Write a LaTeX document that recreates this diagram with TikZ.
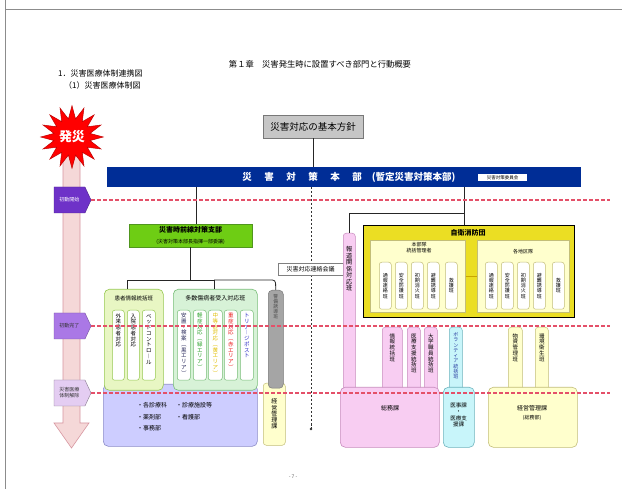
\documentclass[tikz,border=0pt]{standalone}
\usepackage{fontspec}
\setmainfont{Noto Sans CJK JP}
\usetikzlibrary{shapes.geometric,shapes.symbols}
\ExplSyntaxOn
\NewDocumentCommand \tatex { m }
  {
    \vbox:n
      {
        \offinterlineskip
        \tl_map_inline:nn {#1}
          { \hbox_to_wd:nn { 1.05em } { \hfil \vrule height .88em depth .17em width 0pt ##1 \hfil } }
      }
  }
\ExplSyntaxOff
\newcommand\fsz[2]{\fontsize{#1}{#2}\selectfont}
\definecolor{barblue}{RGB}{0,45,150}
\definecolor{shibugreen}{RGB}{110,205,20}
\definecolor{shibuline}{RGB}{80,150,30}
\definecolor{lgfill}{RGB}{232,246,195}
\definecolor{lgline}{RGB}{150,200,80}
\definecolor{mgfill}{RGB}{215,242,215}
\definecolor{mgline}{RGB}{120,190,120}
\definecolor{lavfill}{RGB}{205,205,255}
\definecolor{lavline}{RGB}{140,140,200}
\definecolor{grayfill}{RGB}{165,165,165}
\definecolor{grayline}{RGB}{120,120,120}
\definecolor{jieifill}{RGB}{235,222,35}
\definecolor{pyfill}{RGB}{255,255,205}
\definecolor{pyline}{RGB}{195,190,120}
\definecolor{pinkfill}{RGB}{248,205,242}
\definecolor{pinkline}{RGB}{200,140,190}
\definecolor{cyanfill}{RGB}{200,245,250}
\definecolor{cyanline}{RGB}{110,180,190}
\definecolor{arrowfill}{RGB}{245,216,216}
\definecolor{arrowline}{RGB}{215,150,160}
\definecolor{dashred}{RGB}{228,80,105}
\definecolor{phA}{RGB}{110,50,200}
\definecolor{phB}{RGB}{170,120,230}
\definecolor{phC}{RGB}{228,205,242}
\definecolor{goldline}{RGB}{200,165,0}
% column with centred vertical text
\newcommand\vcolC[8]{%
  \node[col,#2,anchor=north west,minimum width={#5-#3},minimum height={#6-#4}] (#1) at (#3,#4) {};
  \node[inner sep=0,#7] (#1t) at (#1.center) {\tatex{#8}};}
% column with vertical text from the top
\newcommand\vcolT[9]{%
  \node[col,#2,anchor=north west,minimum width={#5-#3},minimum height={#6-#4}] (#1) at (#3,#4) {};
  \node[inner sep=0,anchor=north,#7] (#1t) at ([yshift=-#9pt]#1.north) {\tatex{#8}};}
\newcommand\bsp{\hspace{12.5pt}}
\begin{document}
\begin{tikzpicture}[x=1pt,y=-1pt,
  conn/.style={draw=black!85,line width=.8},
  reddash/.style={draw=dashred,line width=1.1,dash pattern=on 3.5pt off 2.5pt},
  bigbox/.style={rounded corners=5,line width=.6,inner sep=0,anchor=north west},
  col/.style={rounded corners=2.5,line width=.5,fill=white,inner sep=0},
  phase/.style={signal,signal to=east,signal pointer angle=130,minimum width=37,minimum height=26,inner sep=1,line width=.4,align=center,font=\fsz{5}{6}},
  ctext/.style={font=\fsz{5.5}{6}}
]
\useasboundingbox (0,0) rectangle (622,489);
\fill[white] (0,0) rectangle (622,489);
\draw[black!45,line width=1] (5,489) -- (5,0);
\draw[black!45,line width=1] (5,10) -- (622,10);

% headings
\node[font=\fsz{8.3}{10}] (title) at (320,64) {第１章　災害発生時に設置すべき部門と行動概要};
\node[anchor=west,inner sep=0,font=\fsz{8}{10}] (h1) at (58,73) {1．災害医療体制連携図};
\node[anchor=west,inner sep=0,font=\fsz{8}{10}] (h2) at (64,85) {（1）災害医療体制図};

% time arrow
\filldraw[fill=arrowfill,draw=arrowline,line width=.6] (63,145) -- (63,423) -- (54,423) -- (71.5,448) -- (89,423) -- (80,423) -- (80,145) -- cycle;
\node[star,star points=16,star point ratio=1.7,minimum size=62,inner sep=0,fill=red,draw=red!75!black,line width=.5,text=white,font=\bfseries\fsz{13}{14}] (hassai) at (72,137) {発災};
\node[phase,fill=phA,draw=phA!70!black,text=white] (p1) at (69.5,200) {初動開始};
\node[phase,fill=phB,draw=phB!70!black,text=black!80] (p2) at (69.5,326) {初動完了};
\node[phase,fill=phC,draw=phC!60!black,text=black!80] (p3) at (69.5,393) {災害医療\\体制解除};

% top
\node[draw=grayline,fill=gray!45,minimum width=100,minimum height=23,inner sep=0,font=\fsz{9.5}{10}] (hoshin) at (313,126.5) {災害対応の基本方針};
\node[fill=barblue,minimum width=474,minimum height=20,inner sep=0] (bar) at (344,177) {};
\node[text=white,inner sep=0,font=\bfseries\fsz{9.5}{10}] (bartext) at (349,177) {災\bsp 害\bsp 対\bsp 策\bsp 本\bsp 部\hspace{10pt}(暫定災害対策本部)};
\node[fill=white,minimum width=49,minimum height=7,inner sep=0,font=\fsz{4.5}{5}] (iinkai) at (502.5,177.5) {災害対策委員会};
\draw[conn] (hoshin.south) -- (hoshin.south |- bar.north);

% dotted liaison line
\coordinate (dv0) at (311,187);
\coordinate (dv1) at (311,429);
\draw[black!80,line width=1,dash pattern=on 2.5pt off 1.5pt] (dv0) -- (dv1);
\fill[black!80] (dv1) circle (1.3);
\node[draw=black!50,fill=white,minimum width=65,minimum height=12,inner sep=0,font=\fsz{6}{7}] (renraku) at (310.5,269) {災害対応連絡会議};

% front-line branch
\node[fill=shibugreen,draw=shibuline,line width=.5,minimum width=123,minimum height=23,inner sep=0,align=center] (shibu) at (190.5,235.5)
  {\bfseries\fsz{7}{8}災害時前線対策支部\\[-.5pt]\mdseries\fsz{5}{6}(災害対策本部長指揮一部委譲)};
\coordinate (b1) at (196,187);
\draw[conn] (b1) -- (b1 |- shibu.north);

% lower left boxes
\node[bigbox,fill=lavfill,draw=lavline,minimum width=154,minimum height=62] (lav) at (103,384) {};
\node[anchor=west,inner sep=0,font=\fsz{6}{7}] (l1) at (137,405) {・各診療科};
\node[anchor=west,inner sep=0,font=\fsz{6}{7}] (l2) at (176,405) {・診療施設等};
\node[anchor=west,inner sep=0,font=\fsz{6}{7}] (l3) at (137,417) {・薬剤部};
\node[anchor=west,inner sep=0,font=\fsz{6}{7}] (l4) at (176,417) {・看護部};
\node[anchor=west,inner sep=0,font=\fsz{6}{7}] (l5) at (137,428) {・事務部};
\vcolC{keiei1}{fill=pyfill,draw=pyline,rounded corners=3}{263}{383}{285}{445}{font=\fsz{6}{7}}{経営管理課}
\vcolT{keibi}{fill=grayfill,draw=grayline,rounded corners=4}{268}{290}{283}{388}{font=\fsz{4.8}{5},text=black!70}{警備誘導班}{4}

\node[bigbox,fill=lgfill,draw=lgline,minimum width=59,minimum height=101] (kanja) at (104,289) {};
\node[inner sep=0,font=\fsz{5.5}{6}] (kanjat) at ([yshift=-9pt]kanja.north) {患者情報統括班};
\vcolT{k1}{draw=lgline}{112}{310}{124}{380}{ctext}{外来患者対応}{3}
\vcolT{k2}{draw=lgline}{127}{310}{139}{380}{ctext}{入院患者対応}{3}
\vcolT{k3}{draw=lgline}{142}{310}{155}{380}{ctext}{ベッドコントロ︱ル}{3}

\node[bigbox,fill=mgfill,draw=mgline,minimum width=84,minimum height=101] (tasu) at (173,289) {};
\node[inner sep=0,font=\fsz{6}{7}] (tasut) at ([yshift=-9pt]tasu.north) {多数傷病者受入対応班};
\vcolT{t1}{draw=mgline}{177}{310}{190}{380}{ctext,text={rgb,255:red,40;green,40;blue,90}}{安置・検案︵黒エリア︶}{2.5}
\vcolT{t2}{draw=mgline}{193}{310}{206}{380}{ctext,text={rgb,255:red,40;green,160;blue,40}}{軽症対応︵緑エリア︶}{2.5}
\vcolT{t3}{draw=mgline}{208}{310}{222}{380}{ctext,text={rgb,255:red,225;green,190;blue,0}}{中等症対応︵黄エリア︶}{2.5}
\vcolT{t4}{draw=mgline}{224}{310}{237}{380}{ctext,text={rgb,255:red,235;green,30;blue,30}}{重症対応︵赤エリア︶}{2.5}
\vcolT{t5}{draw=mgline}{240}{310}{253}{380}{ctext,text={rgb,255:red,50;green,50;blue,200}}{トリア︱ジポスト}{2.5}

\coordinate (hj) at (190.5,280);
\coordinate (d1) at (127,280);
\coordinate (d2) at (214,280);
\coordinate (d3) at (275.5,280);
\draw[conn] (shibu.south) -- (hj);
\draw[conn] (d1 |- kanja.north) -- (d1) -- (d2);
\draw[conn] (d2) -- (d2 |- tasu.north);
\draw[conn,rounded corners=3] (d2) -- (d3) -- (keibi.north);

% right side
\vcolT{hodo}{fill=pinkfill,draw=pinkline,rounded corners=3}{343}{233}{355}{392}{font=\fsz{6.2}{7}}{報道関係対応班}{13}
\vcolT{jo1}{fill=pinkfill,draw=pinkline,rounded corners=3}{382}{327}{402}{392}{ctext}{情報統括班}{6}
\vcolT{jo2}{fill=pinkfill,draw=pinkline,rounded corners=3}{407}{327}{420}{392}{ctext}{医療支援統括班}{6}
\vcolT{jo3}{fill=pinkfill,draw=pinkline,rounded corners=3}{424}{327}{437}{392}{ctext}{大学職員統括班}{6}
\vcolT{vol}{fill=cyanfill,draw=cyanline,rounded corners=3}{449}{327}{462}{392}{font=\fsz{5}{6},text={rgb,255:red,40;green,60;blue,160}}{ボランティア統括班}{5}
\vcolT{bus}{fill=pyfill,draw=pyline,rounded corners=3}{508}{327}{522}{392}{ctext}{物資管理班}{6}
\vcolT{kan}{fill=pyfill,draw=pyline,rounded corners=3}{535}{327}{548}{392}{ctext}{環境衛生班}{6}

\node[bigbox,fill=pinkfill,draw=pinkline,minimum width=99,minimum height=60] (somu) at (340,387) {};
\node[font=\fsz{6}{7}] (somut) at (390,408) {総務課};
\node[bigbox,fill=cyanfill,draw=cyanline,minimum width=31,minimum height=60] (iji) at (443,387) {};
\node[align=center,inner sep=0,font=\fsz{5.5}{6.2}] (ijit) at (458.5,415) {医事課\\・\\医療支\\援課};
\node[bigbox,fill=pyfill,draw=pyline,minimum width=89,minimum height=60] (keiei2) at (488,387) {};
\node[align=center,inner sep=0,font=\fsz{6}{9}] (keiei2t) at (532,413) {経営管理課\\\fsz{5}{6}(総務部)};

\node[draw=black,line width=1.3,fill=jieifill,minimum width=211,minimum height=92,inner sep=0,anchor=north west] (jiei) at (363,225) {};
\node[inner sep=0,font=\bfseries\fsz{7}{8}] (jieit) at (468,232.5) {自衛消防団};
\node[draw=pyline,line width=.6,fill=pyfill,minimum width=95,minimum height=72,inner sep=0,anchor=north west] (hq) at (370,240) {};
\node[align=center,inner sep=0,font=\fsz{5}{6.2}] (hqt) at (419,248) {本部隊\\統括管理者};
\node[draw=pyline,line width=.6,fill=pyfill,minimum width=92,minimum height=72,inner sep=0,anchor=north west] (chiku) at (477,240) {};
\node[inner sep=0,font=\fsz{5}{6}] (chikut) at (523,252) {各地区隊};
\draw[goldline,line width=1.5] (hq.east) -- (chiku.west);
\vcolC{h1c}{draw=pyline}{379}{262}{391}{309}{font=\fsz{5}{6}}{通報連絡班}
\vcolC{h2c}{draw=pyline}{395}{262}{407}{309}{font=\fsz{5}{6}}{安全防護班}
\vcolC{h3c}{draw=pyline}{411}{262}{423}{309}{font=\fsz{5}{6}}{初期消火班}
\vcolC{h4c}{draw=pyline}{427}{262}{439}{309}{font=\fsz{5}{6}}{避難誘導班}
\vcolC{h5c}{draw=pyline}{445}{262}{457}{309}{font=\fsz{5}{6}}{救護班}
\vcolC{c1c}{draw=pyline}{485}{262}{497}{309}{font=\fsz{5}{6}}{通報連絡班}
\vcolC{c2c}{draw=pyline}{501}{262}{513}{309}{font=\fsz{5}{6}}{安全防護班}
\vcolC{c3c}{draw=pyline}{517}{262}{529}{309}{font=\fsz{5}{6}}{初期消火班}
\vcolC{c4c}{draw=pyline}{533}{262}{545}{309}{font=\fsz{5}{6}}{避難誘導班}
\vcolC{c5c}{draw=pyline}{552}{262}{564}{309}{font=\fsz{5}{6}}{救護班}

\coordinate (r0) at (464,187);
\coordinate (r1) at (464,213);
\draw[conn] (r0) -- (r0 |- jiei.north);
\draw[conn] (hodo.north) |- (r1);

% phase lines
\draw[reddash] (p1.east) -- (610,200);
\draw[reddash] (p2.east) -- (610,326);
\draw[reddash] (p3.east) -- (610,393);

\node[text=black!60,font=\fsz{5}{6}] (page) at (293,477) {- 7 -};
\end{tikzpicture}
\end{document}
